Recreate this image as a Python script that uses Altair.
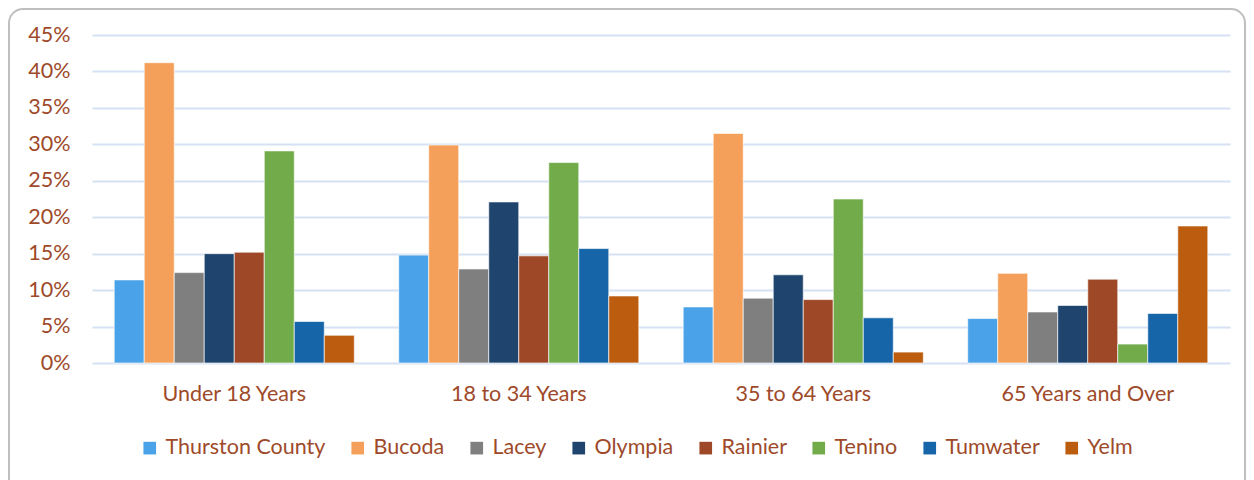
import altair as alt
import pandas as pd

categories = ["Under 18 Years", "18 to 34 Years", "35 to 64 Years", "65 Years and Over"]
series = ["Thurston County", "Bucoda", "Lacey", "Olympia", "Rainier", "Tenino", "Tumwater", "Yelm"]
thurston = [11.4, 14.8, 7.7, 6.1]
bucoda = [41.2, 29.9, 31.5, 12.3]
lacey = [12.4, 12.9, 8.9, 7.0]
olympia = [15.0, 22.1, 12.1, 7.9]
rainier = [15.2, 14.7, 8.7, 11.5]
tenino = [29.1, 27.5, 22.5, 2.6]
tumwater = [5.7, 15.7, 6.2, 6.8]
yelm = [3.8, 9.2, 1.5, 18.8]
colors = ["#4AA3E8", "#F4A05A", "#7F7F7F", "#1F456E", "#9E4827", "#72AC4A", "#1565A8", "#BC5C0E"]
y_ticks = [0, 0.05, 0.10, 0.15, 0.20, 0.25, 0.30, 0.35, 0.40, 0.45]

all_series = [thurston, bucoda, lacey, olympia, rainier, tenino, tumwater, yelm]
rows = []
for name, vals in zip(series, all_series):
    for cat, v in zip(categories, vals):
        rows.append({"age": cat, "town": name, "value": v / 100.0})
df = pd.DataFrame(rows)

TEXT = "#9E4A2A"
FONT = "Lato"
FS = 21.5

bars = alt.Chart(df).mark_bar(stroke="white", strokeWidth=0.8, strokeOpacity=0.8).encode(
    x=alt.X("age:N", sort=categories,
            scale=alt.Scale(paddingInner=0.156, paddingOuter=0.078),
            axis=alt.Axis(title=None, labelAngle=0, ticks=False, domain=False,
                          labelFontSize=FS, labelColor=TEXT, labelPadding=20, labelFont=FONT)),
    xOffset=alt.XOffset("town:N", sort=series, scale=alt.Scale(paddingInner=0, paddingOuter=0)),
    y=alt.Y("value:Q", scale=alt.Scale(domain=[0, 0.45], nice=False),
            axis=alt.Axis(title=None, format=".0%", values=y_ticks, ticks=False, domain=False,
                          labelFontSize=FS, labelColor=TEXT, labelPadding=22, labelFont=FONT,
                          gridColor="#D6E2F3", gridWidth=2)),
    color=alt.Color("town:N", sort=series,
                    scale=alt.Scale(domain=series, range=colors),
                    legend=alt.Legend(title=None, orient="none", direction="horizontal",
                                      legendX=47, legendY=402, padding=0,
                                      symbolType="square", symbolSize=160, symbolStrokeWidth=0,
                                      labelFontSize=FS, labelColor=TEXT, labelFont=FONT,
                                      labelOffset=5, columnPadding=21, labelLimit=300)),
)

border = alt.Chart(pd.DataFrame({"a": [0]})).mark_rect(
    fill="transparent", stroke="#BFBFBF", strokeWidth=2, cornerRadius=14
).encode(
    x=alt.value(-83), x2=alt.value(1153), y=alt.value(-26), y2=alt.value(560)
)

chart = alt.layer(bars, border).properties(
    width=1138, height=328,
    padding={"left": 84, "top": 27, "right": 16, "bottom": 117},
    autosize=alt.AutoSizeParams(type="none"),
).configure_view(stroke=None)

chart.save("out.html", embed_options={"renderer": "svg", "actions": False})
